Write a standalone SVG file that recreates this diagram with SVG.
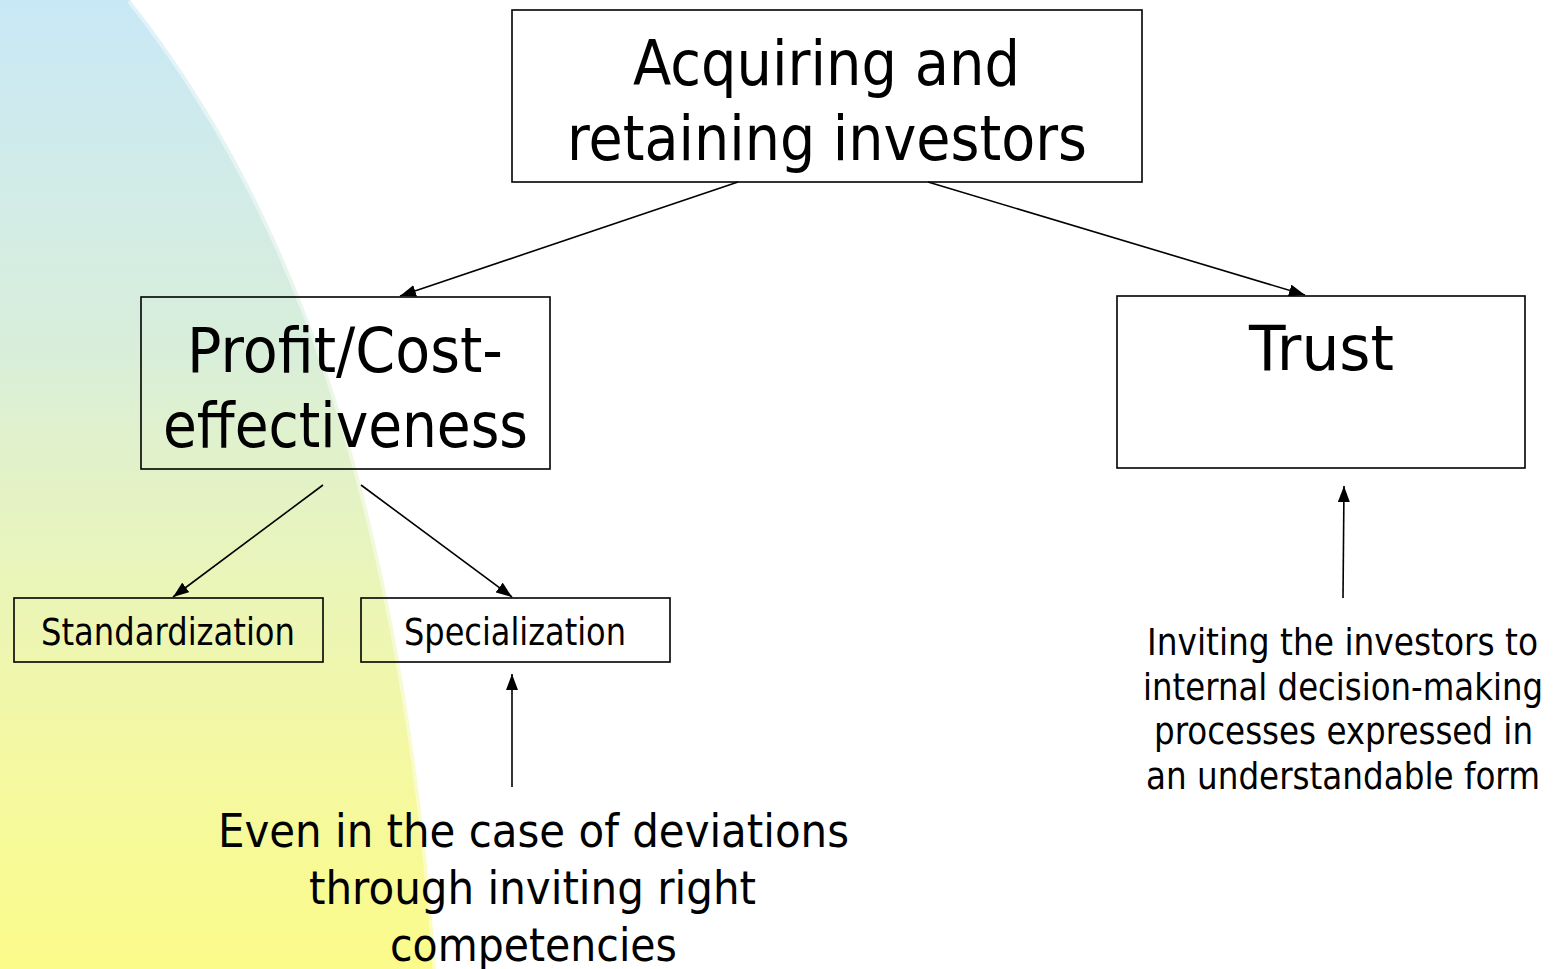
<svg xmlns="http://www.w3.org/2000/svg" width="1553" height="969" viewBox="0 0 1553 969">
<style>
.box{fill:none;stroke:#000;stroke-width:1.6}
.t{font-family:"DejaVu Sans","Liberation Sans",sans-serif;fill:#000}
.big{font-size:63px}
.mid{font-size:47px}
.sm{font-size:37px}
.con{stroke:#000;stroke-width:1.6;fill:none;marker-end:url(#arr)}
</style>
<defs>
<linearGradient id="bg" x1="0" y1="0" x2="0" y2="969" gradientUnits="userSpaceOnUse">
<stop offset="0" stop-color="#c9e8f6"/>
<stop offset="0.35" stop-color="#d8eedb"/>
<stop offset="0.55" stop-color="#e7f4bf"/>
<stop offset="0.78" stop-color="#f4f8a2"/>
<stop offset="1" stop-color="#fbfb8a"/>
</linearGradient>
<marker id="arr" viewBox="0 0 16 12" refX="16" refY="6" markerWidth="16" markerHeight="12" markerUnits="userSpaceOnUse" orient="auto">
<path d="M0,0 L16,6 L0,12 z" fill="#000"/>
</marker>
</defs>
<rect x="0" y="0" width="1553" height="969" fill="#fff"/>
<path d="M0,0 L130,0 C280,190 400,470 436,969 L0,969 z" fill="url(#bg)"/>
<path d="M130,0 C280,190 400,470 436,969" fill="none" stroke="#fff" stroke-opacity="0.45" stroke-width="7"/>

<g id="connectors">
<line class="con" x1="738" y1="182" x2="400" y2="296"/>
<line class="con" x1="928" y1="182" x2="1305" y2="295"/>
<line class="con" x1="323" y1="485" x2="173" y2="597"/>
<line class="con" x1="361" y1="485" x2="512" y2="597"/>
<line class="con" x1="512" y1="787" x2="512" y2="674"/>
<line class="con" x1="1343" y1="598" x2="1344" y2="486"/>
</g>

<g id="node-acquiring">
<rect class="box" x="512" y="10" width="630" height="172"/>
<text class="t big" x="633" y="85" textLength="387" lengthAdjust="spacingAndGlyphs">Acquiring and</text>
<text class="t big" x="567" y="160" textLength="520" lengthAdjust="spacingAndGlyphs">retaining investors</text>
</g>

<g id="node-profit">
<rect class="box" x="141" y="297" width="409" height="172"/>
<text class="t big" x="187" y="372" textLength="316" lengthAdjust="spacingAndGlyphs">Profit/Cost-</text>
<text class="t big" x="163" y="447" textLength="365" lengthAdjust="spacingAndGlyphs">effectiveness</text>
</g>

<g id="node-trust">
<rect class="box" x="1117" y="296" width="408" height="172"/>
<text class="t big" x="1249" y="370" textLength="145" lengthAdjust="spacingAndGlyphs">Trust</text>
</g>

<g id="node-standardization">
<rect class="box" x="14" y="598" width="309" height="64"/>
<text class="t sm" x="41" y="645" textLength="254" lengthAdjust="spacingAndGlyphs">Standardization</text>
</g>

<g id="node-specialization">
<rect class="box" x="361" y="598" width="309" height="64"/>
<text class="t sm" x="404" y="645" textLength="222" lengthAdjust="spacingAndGlyphs">Specialization</text>
</g>

<g id="node-deviations">
<text class="t mid" x="218" y="847" textLength="631" lengthAdjust="spacingAndGlyphs">Even in the case of deviations</text>
<text class="t mid" x="309" y="904" textLength="447" lengthAdjust="spacingAndGlyphs">through inviting right</text>
<text class="t mid" x="390" y="961" textLength="287" lengthAdjust="spacingAndGlyphs">competencies</text>
</g>

<g id="node-inviting">
<text class="t sm" transform="translate(1147,655) scale(0.878,1)" x="0" y="0" textLength="445.3" lengthAdjust="spacingAndGlyphs">Inviting the investors to</text>
<text class="t sm" transform="translate(1143,700) scale(0.878,1)" x="0" y="0" textLength="455.6" lengthAdjust="spacingAndGlyphs">internal decision-making</text>
<text class="t sm" transform="translate(1154,744) scale(0.878,1)" x="0" y="0" textLength="431.7" lengthAdjust="spacingAndGlyphs">processes expressed in</text>
<text class="t sm" transform="translate(1146,789) scale(0.878,1)" x="0" y="0" textLength="448.7" lengthAdjust="spacingAndGlyphs">an understandable form</text>
</g>
</svg>
